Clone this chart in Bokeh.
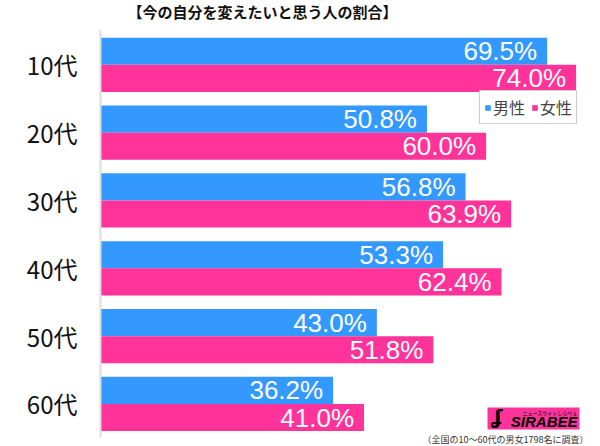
from bokeh.plotting import figure
from bokeh.models import (ColumnDataSource, Range1d, Label, BoxAnnotation,
                          Legend, LegendItem, FixedTicker)
from bokeh.core.properties import value
from bokeh.embed import file_html
from bokeh.resources import INLINE

categories = ["10代", "20代", "30代", "40代", "50代", "60代"]
male = [69.5, 50.8, 56.8, 53.3, 43.0, 36.2]
female = [74.0, 60.0, 63.9, 62.4, 51.8, 41.0]
series_names = ["男性", "女性"]
title_text = "【今の自分を変えたいと思う人の割合】"
footer_text = "（全国の10～60代の男女1798名に調査）"

BLUE = "#3399FF"
PINK = "#FF3399"
JP = "Noto Sans CJK JP"

n = len(categories)
pos = [n - 1 - i for i in range(n)]          # top category first
OFF = 0.2
src = ColumnDataSource(dict(
    cat=categories,
    male=male,
    female=female,
    y_m=[v + OFF for v in pos],
    y_f=[v - OFF for v in pos],
    male_lbl=[f"{v:.1f}%" for v in male],
    female_lbl=[f"{v:.1f}%" for v in female],
))

p = figure(width=600, height=446,
           y_range=Range1d(-0.627, 5.948),
           x_range=Range1d(0, 77.8),
           output_backend="svg", toolbar_location=None,
           x_axis_location=None,
           min_border_left=100, min_border_right=0,
           min_border_top=0, min_border_bottom=0)
p.outline_line_color = None
p.grid.visible = False
p.background_fill_color = "white"
p.border_fill_color = "white"

ax = p.yaxis[0]
ax.ticker = FixedTicker(ticks=pos)
ax.major_label_overrides = {v: c for v, c in zip(pos, categories)}
ax.bounds = (-0.5, n - 0.5)
ax.major_tick_line_color = None
ax.minor_tick_line_color = None
ax.axis_line_color = "#dddddd"
ax.axis_line_width = 2
ax.major_label_text_font = JP
ax.major_label_text_font_size = "24px"
ax.major_label_text_color = "#111111"
ax.major_label_standoff = 17

rm = p.hbar(y="y_m", left=0, right="male", height=0.4,
            source=src, fill_color=BLUE, line_color=None)
rf = p.hbar(y="y_f", left=0, right="female", height=0.4,
            source=src, fill_color=PINK, line_color=None)

for col, lbl, yc in (("male", "male_lbl", "y_m"), ("female", "female_lbl", "y_f")):
    p.text(x=col, y=yc, text=lbl, source=src,
           x_offset=-10, text_align="right", text_baseline="middle",
           text_color="white", text_font=value("Liberation Sans"),
           text_font_size="26px")

legend = Legend(items=[LegendItem(label=series_names[0], renderers=[rm]),
                       LegendItem(label=series_names[1], renderers=[rf])],
                orientation="horizontal", location=(379, 322),
                label_text_font=JP, label_text_font_size="16px",
                label_text_color="#444444",
                glyph_width=7, glyph_height=7, label_height=16,
                label_standoff=2, spacing=6, padding=4, margin=0,
                border_line_color="#999999", border_line_width=1,
                background_fill_color="white", background_fill_alpha=1)
p.add_layout(legend, "center")

# title and footer (screen units inside the frame)
p.add_layout(Label(x=162, y=435, x_units="screen", y_units="screen", text=title_text,
                   text_align="center", text_baseline="middle", text_font=JP,
                   text_font_size="15px", text_font_style="bold", text_color="#111111"))
p.add_layout(Label(x=488, y=7, x_units="screen", y_units="screen", text=footer_text,
                   text_align="right", text_baseline="middle", text_font=JP,
                   text_font_size="9px", text_color="#333333"))

# logo
p.add_layout(BoxAnnotation(left=387, right=479, bottom=17, top=39,
                           left_units="screen", right_units="screen",
                           bottom_units="screen", top_units="screen",
                           fill_color=PINK, fill_alpha=1, line_color=None))
p.add_layout(Label(x=391, y=18, x_units="screen", y_units="screen", text="ʆ",
                   text_font="DejaVu Sans", text_font_size="20px", text_font_style="bold",
                   text_color="black"))
p.add_layout(Label(x=477, y=17, x_units="screen", y_units="screen", text="SIRABEE",
                   text_align="right", text_font="Liberation Sans", text_font_size="15px",
                   text_font_style="bold italic", text_color="black"))
p.add_layout(Label(x=477, y=31, x_units="screen", y_units="screen", text="ニュースサイトしらべぇ",
                   text_align="right", text_font=JP, text_font_size="5px",
                   text_color="black"))

open("out.html", "w").write(file_html(p, INLINE))
